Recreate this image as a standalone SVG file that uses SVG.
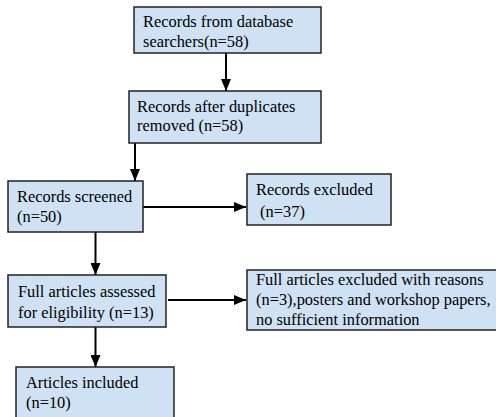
<svg xmlns="http://www.w3.org/2000/svg" width="496" height="417" viewBox="0 0 496 417">
<defs>
<marker id="ah" markerWidth="12" markerHeight="10" refX="12" refY="5" orient="auto" markerUnits="userSpaceOnUse">
<path d="M0,0 L12,5 L0,10 Z" fill="#000"/>
</marker>
<style>
.box{fill:#cfe2f3;stroke:#222;stroke-width:1.5}
.t{font-family:"Liberation Serif","Times New Roman",serif;font-size:16.4px;fill:#000}
.c{stroke:#000;stroke-width:2;fill:none;marker-end:url(#ah)}
</style>
</defs>
<rect width="496" height="417" fill="#fff"/>
<g id="connectors">
<line class="c" x1="226" y1="53" x2="226" y2="91"/>
<line class="c" x1="135" y1="143" x2="135" y2="181"/>
<line class="c" x1="143" y1="207" x2="246" y2="207"/>
<line class="c" x1="95.5" y1="232" x2="95.5" y2="275"/>
<line class="c" x1="168" y1="300" x2="246" y2="300"/>
<line class="c" x1="95.5" y1="327" x2="95.5" y2="367"/>
</g>
<g id="n1"><rect class="box" x="134" y="7" width="187" height="46"/>
<text class="t" x="143" y="27">Records from database</text>
<text class="t" x="143" y="47">searchers(n=58)</text></g>
<g id="n2"><rect class="box" x="129" y="91" width="192" height="52"/>
<text class="t" x="137" y="112">Records after duplicates</text>
<text class="t" x="137" y="131">removed (n=58)</text></g>
<g id="n3"><rect class="box" x="8" y="181" width="135" height="51"/>
<text class="t" x="17" y="202">Records screened</text>
<text class="t" x="17" y="222">(n=50)</text></g>
<g id="n4"><rect class="box" x="247" y="174" width="144" height="51"/>
<text class="t" x="256" y="195">Records excluded</text>
<text class="t" x="256" y="217" xml:space="preserve"> (n=37)</text></g>
<g id="n5"><rect class="box" x="8" y="275" width="158" height="52"/>
<text class="t" x="18" y="297">Full articles assessed</text>
<text class="t" x="18" y="318">for eligibility (n=13)</text></g>
<g id="n6"><rect class="box" x="247" y="270" width="252" height="60"/>
<text class="t" x="256" y="285">Full articles excluded with reasons</text>
<text class="t" x="256" y="305">(n=3),posters and workshop papers,</text>
<text class="t" x="256" y="325">no sufficient information</text></g>
<g id="n7"><rect class="box" x="16" y="367" width="158" height="52"/>
<text class="t" x="26" y="388">Articles included</text>
<text class="t" x="26" y="408">(n=10)</text></g>
</svg>
